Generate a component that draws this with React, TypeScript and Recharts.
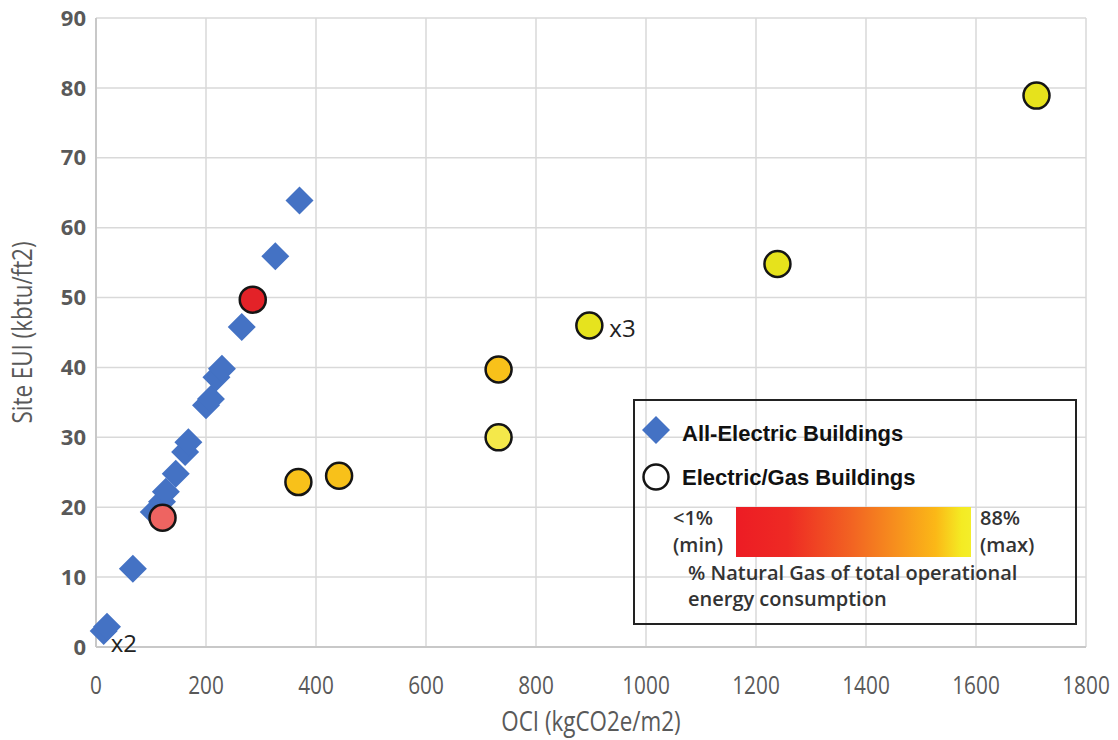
import { ScatterChart, Scatter, XAxis, YAxis, CartesianGrid, Label } from "recharts"

// tick values
const xTicks = [0, 200, 400, 600, 800, 1000, 1200, 1400, 1600, 1800]
const yTicks = [0, 10, 20, 30, 40, 50, 60, 70, 80, 90]

// All-electric buildings (diamonds)
const electricOci = [14, 20, 67, 105, 120, 127, 145, 162, 168, 200, 209, 219, 229, 265, 326, 370]
const electricEui = [2.3, 2.9, 11.2, 19.3, 20.8, 22.2, 24.8, 27.9, 29.3, 34.6, 35.5, 38.6, 39.8, 45.8, 55.9, 63.9]

// Electric/gas buildings (circles), coloured by share of natural gas
const gasOci = [121, 285, 368, 442, 732, 732, 897, 1239, 1710]
const gasEui = [18.5, 49.7, 23.6, 24.5, 39.7, 30.0, 46, 54.8, 78.9]
const gasColors = ["#ee6461", "#e32228", "#f8c11a", "#f8c11a", "#f8c11a", "#f4e84a", "#e6e31e", "#e6e21c", "#e6e21c"]

// "xN" notes for stacked points
const noteOci = [14, 897]
const noteEui = [2.3, 46]
const noteText = ["x2", "x3"]
const NOTE_OFFSETS = [[7, 13], [20, 3]]

const electricData = electricOci.map((x, i) => ({ x, y: electricEui[i] }))
const gasData = gasOci.map((x, i) => ({ x, y: gasEui[i], i }))
const noteData = noteOci.map((x, i) => ({ x, y: noteEui[i], i }))

const AXIS_GREY = "#595959"
const NARROW = 0.8 // squeeze Open Sans to look like the condensed axis font

function Diamond(props: any) {
  const { cx, cy } = props
  const h = 14
  return (
    <polygon
      points={`${cx},${cy - h} ${cx + h},${cy} ${cx},${cy + h} ${cx - h},${cy}`}
      fill="#4472c4"
    />
  )
}

function GasDot(props: any) {
  const { cx, cy, payload } = props
  return <circle cx={cx} cy={cy} r={13} fill={gasColors[payload.i]} stroke="#151515" strokeWidth={2.5} />
}

function Note(props: any) {
  const { cx, cy, payload } = props
  const [dx, dy] = NOTE_OFFSETS[payload.i]
  return (
    <text x={cx + dx} y={cy + dy} dy="0.35em" fontFamily="'Open Sans', sans-serif" fontSize={24} fill="#222">
      {noteText[payload.i]}
    </text>
  )
}

function YTick(props: any) {
  const { x, y, payload } = props
  return (
    <text x={x} y={y} dy="0.35em" textAnchor="end" fontFamily="'Open Sans', sans-serif" fontWeight={700} fontSize={22} fill={AXIS_GREY}>
      {payload.value}
    </text>
  )
}

function XTick(props: any) {
  const { x, y, payload } = props
  return (
    <text
      transform={`translate(${x},${y}) scale(${NARROW},1)`}
      dy="0.35em"
      textAnchor="middle"
      fontFamily="'Open Sans', sans-serif"
      fontSize={26}
      fill={AXIS_GREY}
    >
      {payload.value}
    </text>
  )
}

function Legend() {
  const txt = { fontFamily: "'Open Sans', sans-serif", fontWeight: 600, fontSize: 20, fill: "#333" }
  const head = { fontFamily: "'Liberation Sans', Arial, sans-serif", fontWeight: 700, fontSize: 22, fill: "#111" }
  return (
    <svg width={444} height={226} style={{ position: "absolute", left: 633, top: 399 }}>
      <defs>
        <linearGradient id="gasShare" x1="0" x2="1" y1="0" y2="0">
          <stop offset="0%" stopColor="#ed1c24" />
          <stop offset="22%" stopColor="#ee2a24" />
          <stop offset="50%" stopColor="#f26522" />
          <stop offset="70%" stopColor="#f7941d" />
          <stop offset="85%" stopColor="#fbb817" />
          <stop offset="96%" stopColor="#f4eb23" />
          <stop offset="100%" stopColor="#f4ee2a" />
        </linearGradient>
      </defs>
      <rect x={1} y={1} width={442} height={224} fill="none" stroke="#222" strokeWidth={2} />
      <polygon points="23,17 37,31 23,45 9,31" fill="#4472c4" />
      <text x={49} y={42} {...head}>All-Electric Buildings</text>
      <circle cx={23} cy={78} r={12.5} fill="#fff" stroke="#151515" strokeWidth={2.5} />
      <text x={49} y={86} {...head}>Electric/Gas Buildings</text>
      <rect x={103} y={108} width={235} height={50} fill="url(#gasShare)" />
      <text x={40} y={126} {...txt}>&lt;1%</text>
      <text x={40} y={153} {...txt}>(min)</text>
      <text x={347} y={126} {...txt}>88%</text>
      <text x={347} y={153} {...txt}>(max)</text>
      <text x={55} y={181} {...txt}>% Natural Gas of total operational</text>
      <text x={55} y={207} {...txt}>energy consumption</text>
    </svg>
  )
}

export default function App() {
  return (
    <div style={{ position: "absolute", left: 0, top: 0, width: 1118, height: 740, background: "#fff" }}>
      <ScatterChart width={1118} height={740} margin={{ top: 18, right: 32, bottom: 13, left: 0 }}>
        <CartesianGrid stroke="#d9d9d9" strokeWidth={1.5} />
        <XAxis
          type="number"
          dataKey="x"
          domain={[0, 1800]}
          ticks={xTicks}
          height={80}
          tickSize={0}
          tickMargin={38}
          tick={<XTick />}
          axisLine={{ stroke: "#c8c8c8", strokeWidth: 2 }}
          tickLine={false}
        >
          <Label
            content={({ viewBox }: any) => (
              <text
                transform={`translate(${viewBox.x + viewBox.width / 2},${viewBox.y + 74}) scale(${NARROW},1)`}
                dy="0.35em"
                textAnchor="middle"
                fontFamily="'Open Sans', sans-serif"
                fontSize={28}
                fill={AXIS_GREY}
              >
                OCI (kgCO2e/m2)
              </text>
            )}
          />
        </XAxis>
        <YAxis
          type="number"
          dataKey="y"
          domain={[0, 90]}
          ticks={yTicks}
          width={96}
          tickSize={0}
          tickMargin={10}
          tick={<YTick />}
          axisLine={{ stroke: "#c8c8c8", strokeWidth: 2 }}
          tickLine={false}
        >
          <Label
            content={({ viewBox }: any) => {
              const cy = viewBox.y + viewBox.height / 2
              return (
                <text
                  transform={`translate(22,${cy}) rotate(-90) scale(${NARROW},1)`}
                  dy="0.35em"
                  textAnchor="middle"
                  fontFamily="'Open Sans', sans-serif"
                  fontSize={28}
                  fill={AXIS_GREY}
                >
                  Site EUI (kbtu/ft2)
                </text>
              )
            }}
          />
        </YAxis>
        <Scatter data={electricData} shape={<Diamond />} isAnimationActive={false} />
        <Scatter data={gasData} shape={<GasDot />} isAnimationActive={false} />
        <Scatter data={noteData} shape={<Note />} isAnimationActive={false} />
      </ScatterChart>
      <Legend />
    </div>
  )
}
